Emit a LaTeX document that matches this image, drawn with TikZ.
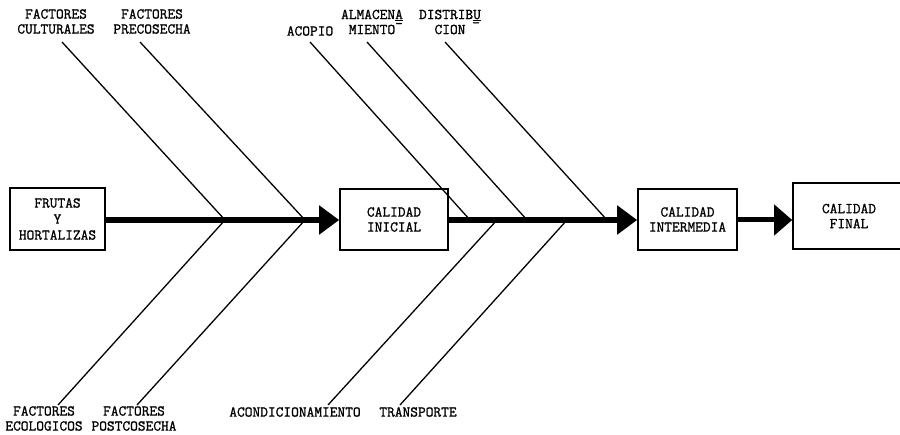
\documentclass[tikz,border=0pt]{standalone}
\usepackage{fontspec}
\setmonofont{Latin Modern Mono}[FakeBold=1.2]
\usetikzlibrary{arrows.meta}

\begin{document}
\begin{tikzpicture}[x=1pt, y=-1pt,
        every node/.style={font=\ttfamily\fontsize{15}{15}\selectfont, align=center, inner sep=0pt},
        caja/.style={draw, line width=1.6pt},
        espina/.style={line width=6pt, -{Triangle[length=20pt,width=28pt]}},
        hueso/.style={line width=1.3pt}]
            \useasboundingbox (0,0) rectangle (900,435);

            % Boxes
            \node[caja, minimum width=95pt, minimum height=62pt, font=\ttfamily\fontsize{15}{16}\selectfont] (frutas) at (57.5,219) {FRUTAS\\Y\\HORTALIZAS};
            \node[caja, minimum width=108pt, minimum height=61pt] (inicial) at (394,219.5) {CALIDAD\\INICIAL};
            \node[caja, minimum width=99pt, minimum height=61pt] (intermedia) at (687.5,219.5) {CALIDAD\\INTERMEDIA};
            \node[caja, minimum width=112pt, minimum height=66pt] (final) at (849,216) {CALIDAD\\FINAL};

            % Labels
            \node (cult) at (56,21.5) {FACTORES\\CULTURALES};
            \node (prec) at (152,21.5) {FACTORES\\PRECOSECHA};
            \node (acopio) at (310,31) {ACOPIO};
            \node (almac) at (372,22) {ALMACEN\underline{A}\\MIENTO\rlap{\raisebox{0.4em}{-}}};
            \node (distr) at (450,22) {DISTRIB\underline{U}\\CION\rlap{\kern0.45em\raisebox{0.45em}{-}}};
            \node (ecol) at (44,418.5) {FACTORES\\ECOLOGICOS};
            \node (post) at (134,418.5) {FACTORES\\POSTCOSECHA};
            \node (acond) at (295,412) {ACONDICIONAMIENTO};
            \node (transp) at (418,412) {TRANSPORTE};

            % Points on the spine
            \foreach \n/\x in {s1/225, s2/305, s3/470, s4/527, s5/607, s6/497, s7/567} {
                \coordinate (\n) at (\x,220);
            }

            % Free ends of the bones
            \foreach \n/\x in {a1/62, a2/140, a3/310, a4/367, a5/445} {
                \coordinate (\n) at (\x,42);
            }
            \foreach \n/\x in {d1/58, d2/137, d3/328, d4/400} {
                \coordinate (\n) at (\x,405);
            }

            % Bones
            \foreach \i in {1,...,5} {
                \draw[hueso] (a\i) -- (s\i);
            }
            \foreach \a/\b in {d1/s1, d2/s2, d3/s6, d4/s7} {
                \draw[hueso] (\a) -- (\b);
            }

            % Spine
            \draw[espina] (frutas.east |- s1) -- (inicial.west |- s1);
            \draw[espina] (inicial.east |- s1) -- (intermedia.west |- s1);
            \draw[line width=5pt, -{Triangle[length=18pt,width=30pt]}] (intermedia.east |- s1) -- (final.west |- s1);
        \end{tikzpicture}
\end{document}
